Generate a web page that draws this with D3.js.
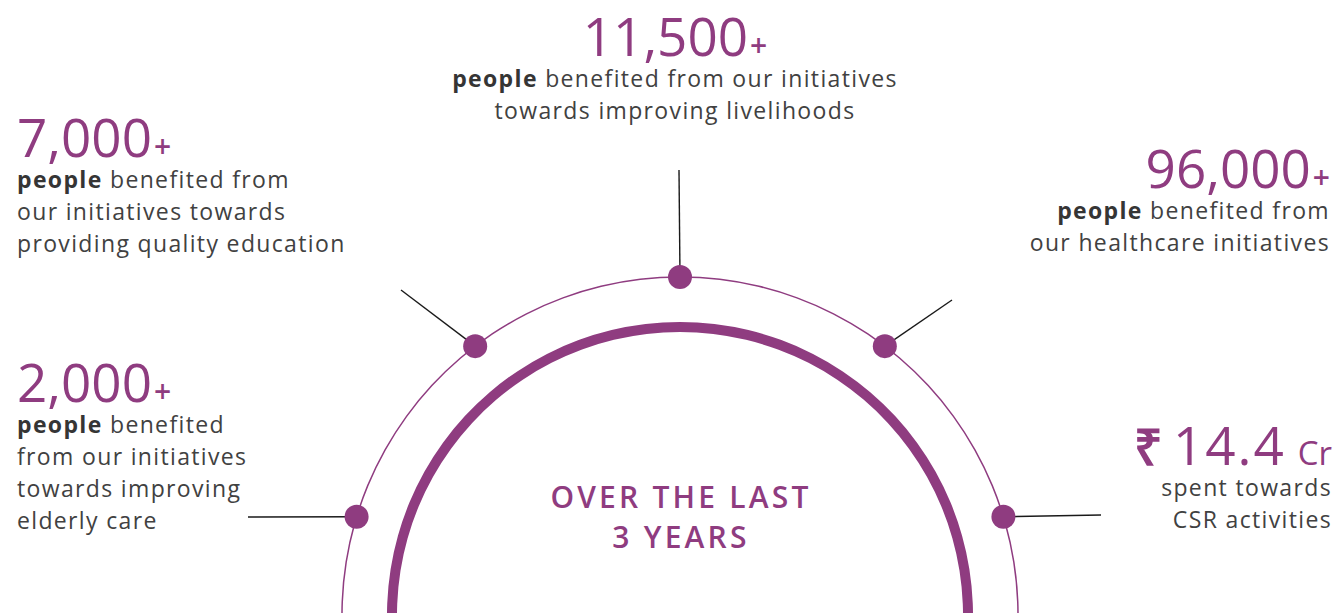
<!DOCTYPE html>
<html><head><meta charset="utf-8">
<script src="https://cdn.jsdelivr.net/npm/d3@7"></script>
<style>
html,body{margin:0;padding:0;background:#fff;}
svg{display:block;}
</style></head>
<body>
<script>
// ---- data ----
const figures = ["11,500", "7,000", "96,000", "2,000", "14.4"];
const prefixes = ["", "", "", "", "₹"];
const suffixes = ["+", "+", "+", "+", "Cr"];
const boldLead = ["people", "people", "people", "people", ""];
const descriptions = [
  ["people benefited from our initiatives", "towards improving livelihoods"],
  ["people benefited from", "our initiatives towards", "providing quality education"],
  ["people benefited from", "our healthcare initiatives"],
  ["people benefited", "from our initiatives", "towards improving", "elderly care"],
  ["spent towards", "CSR activities"]
];
const dotAngles = [90, 127.3, 52.7, 163.1, 16.9]; // degrees on the ring
const centerLines = ["OVER THE LAST", "3 YEARS"];

// ---- layout ----
const W = 1335, H = 613;
const purple = "#8f3c80", grey = "#414141", lineCol = "#1a1a1a";
const cx = 680, cy = 615, rOuter = 338, rInner = 288;
const layout = [
  {x: 675, y: 56, anchor: "middle", lead: [679, 170]},
  {x: 17, y: 157, anchor: "start", lead: [401, 290]},
  {x: 1330, y: 188, anchor: "end", lead: [952, 300]},
  {x: 17, y: 402, anchor: "start", lead: [248, 517]},
  {x: 1332, y: 465, anchor: "end", lead: [1101, 515]}
];
const bigSize = 53, bodySize = 23, lineH = 32, bodySpacing = 1.35;
const font = "'Open Sans', sans-serif";

const svg = d3.select("body").append("svg").attr("width", W).attr("height", H);

const ang = d3.scaleLinear().domain([0, 360]).range([0, 2 * Math.PI]);
const pos = (a, r) => [cx + r * Math.cos(ang(a)), cy - r * Math.sin(ang(a))];

// rings via d3.arc
const arcGen = d3.arc();
svg.append("path")
  .attr("transform", `translate(${cx},${cy})`)
  .attr("d", arcGen({innerRadius: rOuter - 0.75, outerRadius: rOuter + 0.75, startAngle: -Math.PI * 0.6, endAngle: Math.PI * 0.6}))
  .attr("fill", purple);
svg.append("path")
  .attr("transform", `translate(${cx},${cy})`)
  .attr("d", arcGen({innerRadius: rInner - 5, outerRadius: rInner + 5, startAngle: -Math.PI * 0.6, endAngle: Math.PI * 0.6}))
  .attr("fill", purple);

// leader lines
svg.selectAll("line.lead").data(dotAngles).join("line")
  .attr("class", "lead")
  .attr("x1", (d) => pos(d, rOuter)[0]).attr("y1", (d) => pos(d, rOuter)[1])
  .attr("x2", (d, i) => layout[i].lead[0]).attr("y2", (d, i) => layout[i].lead[1])
  .attr("stroke", lineCol).attr("stroke-width", 1.4);

// dots
svg.selectAll("circle.dot").data(dotAngles).join("circle")
  .attr("class", "dot")
  .attr("cx", (d) => pos(d, rOuter)[0]).attr("cy", (d) => pos(d, rOuter)[1])
  .attr("r", 12).attr("fill", purple);

// text blocks: one text element per block, lines as tspans
figures.forEach((f, i) => {
  const L = layout[i];
  const t = svg.append("text").attr("font-family", font).attr("text-anchor", L.anchor)
    .attr("x", L.x).attr("y", L.y);
  if (prefixes[i]) t.append("tspan").attr("fill", purple).attr("font-size", 50).attr("font-weight", 700).text(prefixes[i]);
  t.append("tspan").attr("fill", purple).attr("font-size", bigSize).attr("dx", prefixes[i] ? 10 : 0)
    .attr("letter-spacing", prefixes[i] ? 2 : 0).text(f);
  const isPlus = suffixes[i] === "+";
  t.append("tspan").attr("fill", purple).attr("font-size", isPlus ? 30 : 33).attr("font-weight", isPlus ? 600 : 400)
    .attr("dx", isPlus ? 2 : 12).text(suffixes[i]);
  descriptions[i].forEach((line, j) => {
    const first = t.append("tspan").attr("x", L.x).attr("y", L.y + lineH * (j + 1) - 1)
      .attr("font-size", bodySize).attr("fill", grey).attr("letter-spacing", bodySpacing);
    if (j === 0 && boldLead[i] && line.startsWith(boldLead[i])) {
      first.attr("font-weight", 700).attr("fill", "#353535").text(boldLead[i]);
      t.append("tspan").attr("font-size", bodySize).attr("fill", grey)
        .attr("letter-spacing", bodySpacing).text(line.slice(boldLead[i].length));
    } else first.text(line);
  });
});

// center label
svg.append("g").selectAll("text").data(centerLines).join("text")
  .attr("x", cx + 1).attr("y", (d, i) => 508 + i * 40)
  .attr("text-anchor", "middle").attr("font-family", font)
  .attr("font-size", 30).attr("font-weight", 600).attr("fill", purple)
  .attr("letter-spacing", 3.2)
  .text((d) => d);
</script>
</body></html>
